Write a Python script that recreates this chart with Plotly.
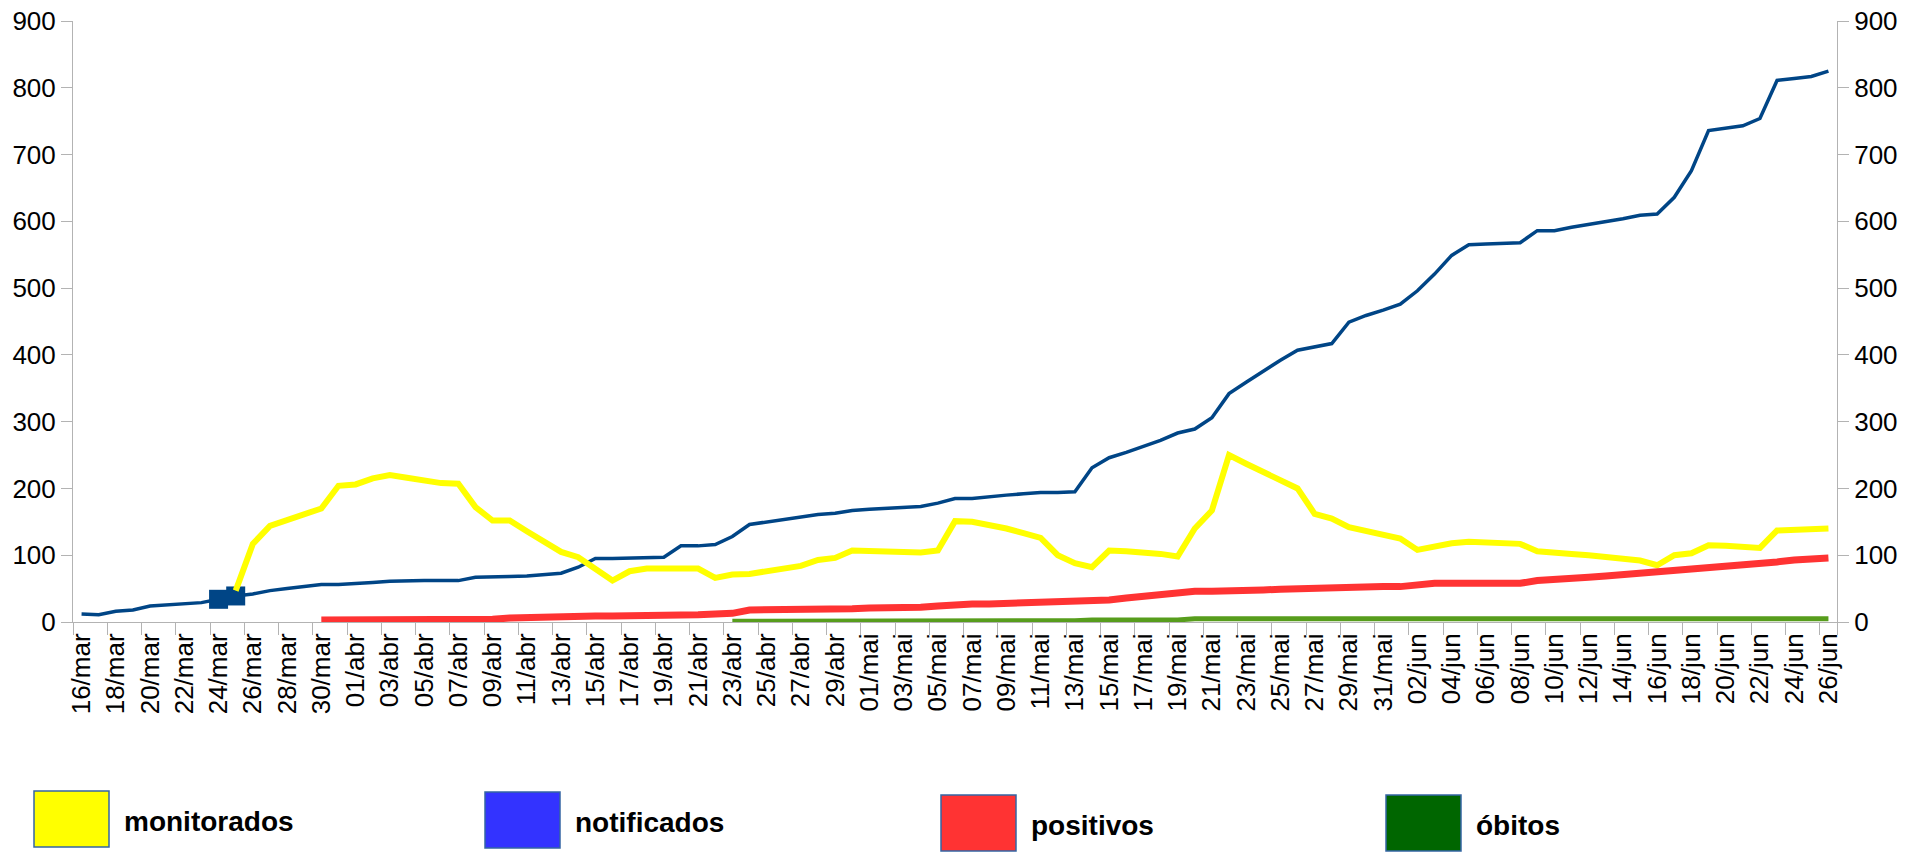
import plotly.graph_objects as go

categorias = [
    "16/mar", "17/mar", "18/mar", "19/mar", "20/mar", "21/mar", "22/mar", "23/mar", "24/mar", "25/mar",
    "26/mar", "27/mar", "28/mar", "29/mar", "30/mar", "31/mar",
    "01/abr", "02/abr", "03/abr", "04/abr", "05/abr", "06/abr", "07/abr", "08/abr", "09/abr", "10/abr",
    "11/abr", "12/abr", "13/abr", "14/abr", "15/abr", "16/abr", "17/abr", "18/abr", "19/abr", "20/abr",
    "21/abr", "22/abr", "23/abr", "24/abr", "25/abr", "26/abr", "27/abr", "28/abr", "29/abr", "30/abr",
    "01/mai", "02/mai", "03/mai", "04/mai", "05/mai", "06/mai", "07/mai", "08/mai", "09/mai", "10/mai",
    "11/mai", "12/mai", "13/mai", "14/mai", "15/mai", "16/mai", "17/mai", "18/mai", "19/mai", "20/mai",
    "21/mai", "22/mai", "23/mai", "24/mai", "25/mai", "26/mai", "27/mai", "28/mai", "29/mai", "30/mai",
    "31/mai",
    "01/jun", "02/jun", "03/jun", "04/jun", "05/jun", "06/jun", "07/jun", "08/jun", "09/jun", "10/jun",
    "11/jun", "12/jun", "13/jun", "14/jun", "15/jun", "16/jun", "17/jun", "18/jun", "19/jun", "20/jun",
    "21/jun", "22/jun", "23/jun", "24/jun", "25/jun", "26/jun",
]

monitorados = [
    None, None, None, None, None, None, None, None, None, 47,
    117, 144, 152, 161, 170, 204, 206, 215, 220, 216,
    212, 208, 207, 172, 152, 152, 136, 120, 105, 97,
    80, 62, 76, 80, 80, 80, 80, 66, 71, 72,
    76, 80, 84, 93, 96, 107, 106, 105, 105, 104,
    107, 151, 150, 146, 140, 133, 126, 100, 88, 82,
    107, 106, 105, 102, 98, 140, 167, 250, 237, 225,
    212, 200, 162, 155, 142, 136, 130, 125, 108, 114,
    118, 120, 119, 119, 117, 106, 105, 102, 100, 97,
    95, 92, 85, 100, 103, 115, 114, 113, 111, 137,
    138, 140, 140,
]

notificados = [
    12, 11, 16, 18, 24, 26, 27, 29, 34, 39,
    42, 47, 50, 53, 56, 56, 57, 59, 61, 62,
    62, 62, 62, 67, 67, 68, 69, 71, 73, 82,
    95, 95, 96, 97, 97, 114, 114, 116, 128, 146,
    150, 153, 157, 161, 163, 167, 169, 170, 171, 173,
    178, 185, 185, 188, 190, 192, 194, 194, 195, 231,
    246, 254, 263, 272, 283, 289, 306, 342, 359, 376,
    392, 407, 412, 417, 449, 459, 467, 476, 496, 521,
    549, 565, 566, 567, 568, 586, 586, 591, 595, 600,
    604, 609, 611, 636, 676, 736, 740, 743, 754, 811,
    814, 817, 825,
]

positivos = [
    None, None, None, None, None, None, None, None, None, None,
    None, None, None, None, 3, 3, 4, 4, 4, 4,
    4, 4, 4, 4, 4, 6, 7, 8, 8, 8,
    9, 9, 9, 11, 11, 11, 11, 12, 13, 18,
    18, 18, 18, 19, 20, 20, 21, 21, 21, 22,
    24, 26, 27, 27, 28, 28, 28, 29, 30, 32,
    33, 36, 39, 42, 44, 46, 46, 46, 47, 48,
    49, 50, 50, 52, 52, 53, 53, 53, 56, 58,
    58, 58, 58, 58, 58, 62, 63, 65, 67, 69,
    71, 73, 75, 76, 79, 81, 83, 86, 88, 90,
    93, 95, 96,
]

obitos = [
    None, None, None, None, None, None, None, None, None, None,
    None, None, None, None, None, None, None, None, None, None,
    None, None, None, None, None, None, None, None, None, None,
    None, None, None, None, None, None, None, None, 1, 1,
    1, 1, 1, 1, 1, 1, 1, 1, 1, 1,
    1, 1, 1, 1, 1, 1, 1, 1, 2, 3,
    3, 3, 3, 3, 3, 5, 5, 5, 5, 5,
    5, 5, 5, 5, 5, 5, 5, 5, 5, 5,
    5, 5, 5, 5, 5, 5, 5, 5, 5, 5,
    5, 5, 5, 5, 5, 5, 5, 5, 5, 5,
    5, 5, 5,
]

# days of notificados that carry a square marker
marcados = ["24/mar", "25/mar"]

legenda_nomes = ["monitorados", "notificados", "positivos", "óbitos"]
legenda_cores = ["#FFFF00", "#3333FF", "#FF3333", "#006600"]

y_ticks = [0, 100, 200, 300, 400, 500, 600, 700, 800, 900]

W, H = 1917, 852
PLOT_L, PLOT_R, PLOT_T, PLOT_B = 73, 1837, 21, 622   # screen pixels
ML, MT, MR, MB = PLOT_L, PLOT_T, W - PLOT_R, H - PLOT_B
PW, PH = W - ML - MR, H - MT - MB

FONT = "Liberation Sans, Arial, sans-serif"
AXIS_COLOR = "#b3b3b3"

fig = go.Figure()

fig.add_trace(go.Scatter(x=categorias, y=notificados, mode="lines",
                         line=dict(color="#004586", width=3.5), name="notificados",
                         showlegend=False))
marc_y = [notificados[categorias.index(c)] for c in marcados]
fig.add_trace(go.Scatter(x=marcados, y=marc_y, mode="markers",
                         marker=dict(symbol="square", size=19, color="#004586"),
                         showlegend=False))
fig.add_trace(go.Scatter(x=categorias, y=monitorados, mode="lines",
                         line=dict(color="#FFFF00", width=6), name="monitorados",
                         showlegend=False))
fig.add_trace(go.Scatter(x=categorias, y=positivos, mode="lines",
                         line=dict(color="#FF3333", width=7), name="positivos",
                         showlegend=False))
fig.add_trace(go.Scatter(x=categorias, y=obitos, mode="lines",
                         line=dict(color="#579D1C", width=5), name="óbitos",
                         showlegend=False))
# invisible trace to anchor the right-hand axis
fig.add_trace(go.Scatter(x=categorias, y=notificados, mode="lines", yaxis="y2",
                         line=dict(width=0), opacity=0, hoverinfo="skip",
                         showlegend=False))

common_y = dict(range=[0, 900], tickvals=y_ticks, showgrid=False, zeroline=False,
                showline=True, linecolor=AXIS_COLOR, linewidth=1, automargin=False,
                ticks="outside", ticklen=11, tickcolor=AXIS_COLOR, tickwidth=1,
                ticklabeloverflow="allow",
                tickfont=dict(family=FONT, size=26, color="#000000"))

fig.update_layout(
    width=W, height=H,
    margin=dict(l=ML, r=MR, t=MT, b=MB, pad=0),
    paper_bgcolor="white", plot_bgcolor="white",
    showlegend=False,
    xaxis=dict(type="category", categoryorder="array", categoryarray=categorias,
               range=[-0.5, len(categorias) - 0.5], automargin=False,
               tickmode="array", tickvals=categorias[::2], ticktext=categorias[::2],
               tickson="boundaries", ticks="outside", ticklen=12,
               tickcolor=AXIS_COLOR, tickwidth=1, ticklabeloverflow="allow",
               showline=True, linecolor=AXIS_COLOR, linewidth=1, showgrid=False,
               tickangle=-90,
               tickfont=dict(family=FONT, size=26, color="#000000")),
    yaxis=dict(side="left", **common_y),
    yaxis2=dict(side="right", overlaying="y", **common_y),
)

def px_x(p):
    return (p - ML) / PW

def px_y(p):
    return (PLOT_B - p) / PH

box_left = [34, 485, 941, 1386]
box_top = [791, 792, 795, 795]
box_w, box_h = 75, 56
text_gap = 13

for nome, cor, bl, bt in zip(legenda_nomes, legenda_cores, box_left, box_top):
    fig.add_shape(type="rect", xref="paper", yref="paper",
                  x0=px_x(bl), x1=px_x(bl + box_w), y0=px_y(bt + box_h), y1=px_y(bt),
                  fillcolor=cor, line=dict(color="#3465A4", width=1.5))
    fig.add_annotation(xref="paper", yref="paper", x=px_x(bl + box_w + text_gap),
                       y=px_y(bt + box_h / 2 + 2), xanchor="left", yanchor="middle",
                       text="<b>" + nome + "</b>", showarrow=False,
                       font=dict(family=FONT, size=28, color="#000000"))

fig.write_html(
    "out.html",
    config={"displayModeBar": False},
    post_script="document.body.style.margin='0px';"
                "document.documentElement.style.overflow='hidden';",
)
